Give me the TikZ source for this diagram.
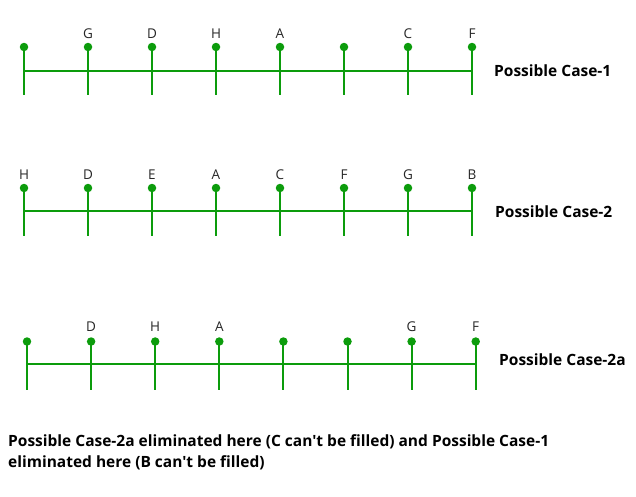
\documentclass[tikz,border=0pt]{standalone}
\usepackage{fontspec}
\newfontfamily\uifont{Open Sans}
\definecolor{tickgreen}{RGB}{12,156,12}

\begin{document}
\begin{tikzpicture}[x=1pt, y=-1pt,
    dot/.style = {circle, fill=tickgreen, inner sep=0pt, minimum size=8.5pt},
    stem/.style = {draw=tickgreen, line width=2pt},
    lbl/.style = {font=\uifont\fontsize{13.5}{15}\selectfont, text=black!85, inner sep=0pt},
    case/.style = {font=\uifont\bfseries\fontsize{15.5}{21}\selectfont, anchor=west, inner sep=0pt}]
    \useasboundingbox (0,0) rectangle (636,496);

    % case 1
    \foreach \lab [count=\i] in {{},G,D,H,A,{},C,F} {
        \node [dot] (a\i) at ({24+64*(\i-1)}, 47) {};
        \coordinate (am\i) at ({24+64*(\i-1)}, 70.5);
        \coordinate (ab\i) at ({24+64*(\i-1)}, 95);
        \node [lbl] (la\i) at ({24+64*(\i-1)}, 34) {\lab};
        \draw [stem] (a\i.center) -- (ab\i);
    }
    \draw [stem] (am1) -- (am8);
    \node [case] (case1) at (494, 71) {Possible Case-1};

    % case 2
    \foreach \lab [count=\i] in {H,D,E,A,C,F,G,B} {
        \node [dot] (b\i) at ({24+64*(\i-1)}, 188) {};
        \coordinate (bm\i) at ({24+64*(\i-1)}, 211);
        \coordinate (bb\i) at ({24+64*(\i-1)}, 236);
        \node [lbl] (lb\i) at ({24+64*(\i-1)}, 175) {\lab};
        \draw [stem] (b\i.center) -- (bb\i);
    }
    \draw [stem] (bm1) -- (bm8);
    \node [case] (case2) at (495, 211.5) {Possible Case-2};

    % case 2a
    \foreach \lab [count=\i] in {{},D,H,A,{},{},G,F} {
        \node [dot] (c\i) at ({27+64.1*(\i-1)}, 341.5) {};
        \coordinate (cm\i) at ({27+64.1*(\i-1)}, 364);
        \coordinate (cb\i) at ({27+64.1*(\i-1)}, 389.5);
        \node [lbl] (lc\i) at ({27+64.1*(\i-1)}, 327) {\lab};
        \draw [stem] (c\i.center) -- (cb\i);
    }
    \draw [stem] (cm1) -- (cm8);
    \node [case] (case3) at (499, 360) {Possible Case-2a};

    \node [case, align=left, text=black] (note) at (8, 452)
        {Possible Case-2a eliminated here (C can't be filled) and Possible Case-1\\
         eliminated here (B can't be filled)};

\end{tikzpicture}
\end{document}
